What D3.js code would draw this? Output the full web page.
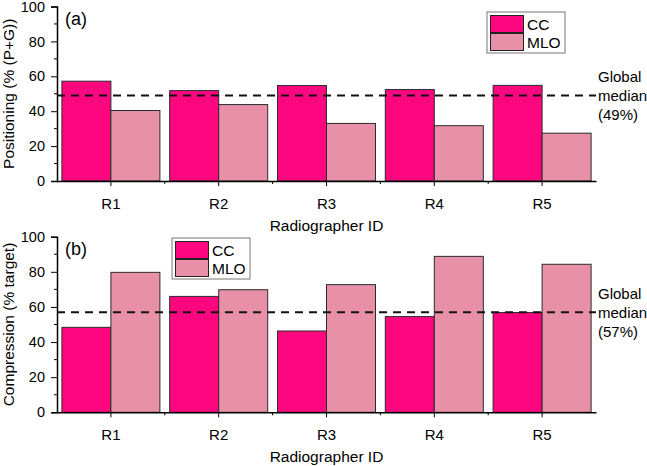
<!DOCTYPE html>
<html lang="en">
<head>
  <meta charset="UTF-8">
  <title>Positioning and compression by radiographer</title>
  <script src="https://d3js.org/d3.v7.min.js"></script>
  <style>
    body { margin: 0; background: #fff; }
    text { font-family: "Liberation Sans", Arial, sans-serif; fill: #000; }
  </style>
</head>
<body>
  <svg id="chart" width="647" height="466"></svg>

  <script>
    // data
    const radiographers = ["R1", "R2", "R3", "R4", "R5"];
    const series = ["CC", "MLO"];
    const positioningCC = [57.2, 51.8, 54.7, 52.4, 54.8];
    const positioningMLO = [40.4, 43.8, 33.0, 31.7, 27.4];
    const compressionCC = [48.4, 66.0, 46.3, 54.5, 56.8];
    const compressionMLO = [79.7, 69.8, 72.7, 88.8, 84.3];
    const positioningMedian = 49;
    const compressionMedian = 57;
    const yTicks = [0, 20, 40, 60, 80, 100];

    const colors = { CC: "#fd0780", MLO: "#e890a8" };

    const svg = d3.select("svg#chart");
    const left = 57, right = 596;
    const font = "Liberation Sans, Arial, sans-serif";

    // one function per panel, they only differ by position / labels
    function drawPanel(opts) {
      const g = svg.append("g");
      const x = d3.scaleBand().domain(radiographers).range([left, right]).paddingInner(0).paddingOuter(0);
      const sub = d3.scaleBand().domain(series).range([0, x.bandwidth()]).paddingOuter(0.1).paddingInner(0);
      const y = d3.scaleLinear().domain([0, 100]).range([opts.bottom, opts.top]);

      const rows = radiographers.map((r, i) => ({ r: r, CC: opts.cc[i], MLO: opts.mlo[i] }));

      // bars
      g.selectAll("g.grp").data(rows).join("g")
        .attr("class", "grp")
        .attr("transform", d => `translate(${x(d.r)},0)`)
        .selectAll("rect").data(d => series.map(s => ({ s: s, v: d[s] })))
        .join("rect")
        .attr("x", d => sub(d.s))
        .attr("width", sub.bandwidth())
        .attr("y", d => y(d.v))
        .attr("height", d => y(0) - y(d.v))
        .attr("fill", d => colors[d.s])
        .attr("stroke", "#2b2b2b")
        .attr("stroke-width", 1);

      // median line
      g.append("line")
        .attr("x1", left).attr("x2", right)
        .attr("y1", y(opts.median)).attr("y2", y(opts.median))
        .attr("stroke", "#111").attr("stroke-width", 2)
        .attr("stroke-dasharray", "8,6");

      const med = g.append("text").attr("font-size", 15);
      ["Global", "median", `(${opts.median}%)`].forEach((t, i) => {
        med.append("tspan").attr("x", 598)
          .attr("y", y(opts.median) + (i - 1) * 19 + 5.5).text(t);
      });

      // y axis
      const yAxis = d3.axisLeft(y).tickValues(yTicks).tickSize(6).tickPadding(6);
      const ya = g.append("g").attr("transform", `translate(${left},0)`).call(yAxis);
      ya.selectAll(".tick text").attr("font-size", 14.5).attr("font-family", font);
      ya.append("g").selectAll("line").data(d3.range(10, 100, 20)).join("line")
        .attr("x1", -3).attr("x2", 0)
        .attr("y1", d => y(d)).attr("y2", d => y(d))
        .attr("stroke", "#000");

      // x axis
      const xAxis = d3.axisBottom(x).tickSize(5).tickPadding(12).tickSizeOuter(0);
      const xa = g.append("g").attr("transform", `translate(0,${opts.bottom})`).call(xAxis);
      xa.selectAll(".tick text").attr("font-size", 15).attr("font-family", font);
      xa.append("g").selectAll("line").data(radiographers.slice(1)).join("line")
        .attr("x1", d => x(d)).attr("x2", d => x(d))
        .attr("y1", 0).attr("y2", 3)
        .attr("stroke", "#000");
      svg.selectAll(".domain").attr("stroke-width", 1.5);

      // titles
      g.append("text").attr("x", (left + right) / 2).attr("y", opts.bottom + 50)
        .attr("text-anchor", "middle").attr("font-size", 15.5).text("Radiographer ID");
      g.append("text")
        .attr("transform", `translate(14,${(opts.top + opts.bottom) / 2}) rotate(-90)`)
        .attr("text-anchor", "middle").attr("font-size", 15.5).text(opts.ytitle);
      g.append("text").attr("x", 65).attr("y", opts.top + 18)
        .attr("font-size", 18).text(opts.tag);

      // legend
      const lg = g.append("g").attr("transform", `translate(${opts.legend[0]},${opts.legend[1]})`);
      lg.append("rect").attr("width", 78).attr("height", 41)
        .attr("fill", "#fff").attr("stroke", "#777").attr("stroke-width", 1);
      series.forEach((s, i) => {
        lg.append("rect").attr("x", 3.5).attr("y", 3.5 + i * 18)
          .attr("width", 33).attr("height", 17)
          .attr("fill", colors[s]).attr("stroke", "#222").attr("stroke-width", 1);
        lg.append("text").attr("x", 40).attr("y", 17.5 + i * 18)
          .attr("font-size", 15.5).text(s);
      });
    }

    drawPanel({
      top: 6.5, bottom: 181, cc: positioningCC, mlo: positioningMLO,
      median: positioningMedian, ytitle: "Positioning (% (P+G))", tag: "(a)",
      legend: [487, 12]
    });

    drawPanel({
      top: 236.7, bottom: 412.3, cc: compressionCC, mlo: compressionMLO,
      median: compressionMedian, ytitle: "Compression (% target)", tag: "(b)",
      legend: [172, 238]
    });
  </script>
</body>
</html>
